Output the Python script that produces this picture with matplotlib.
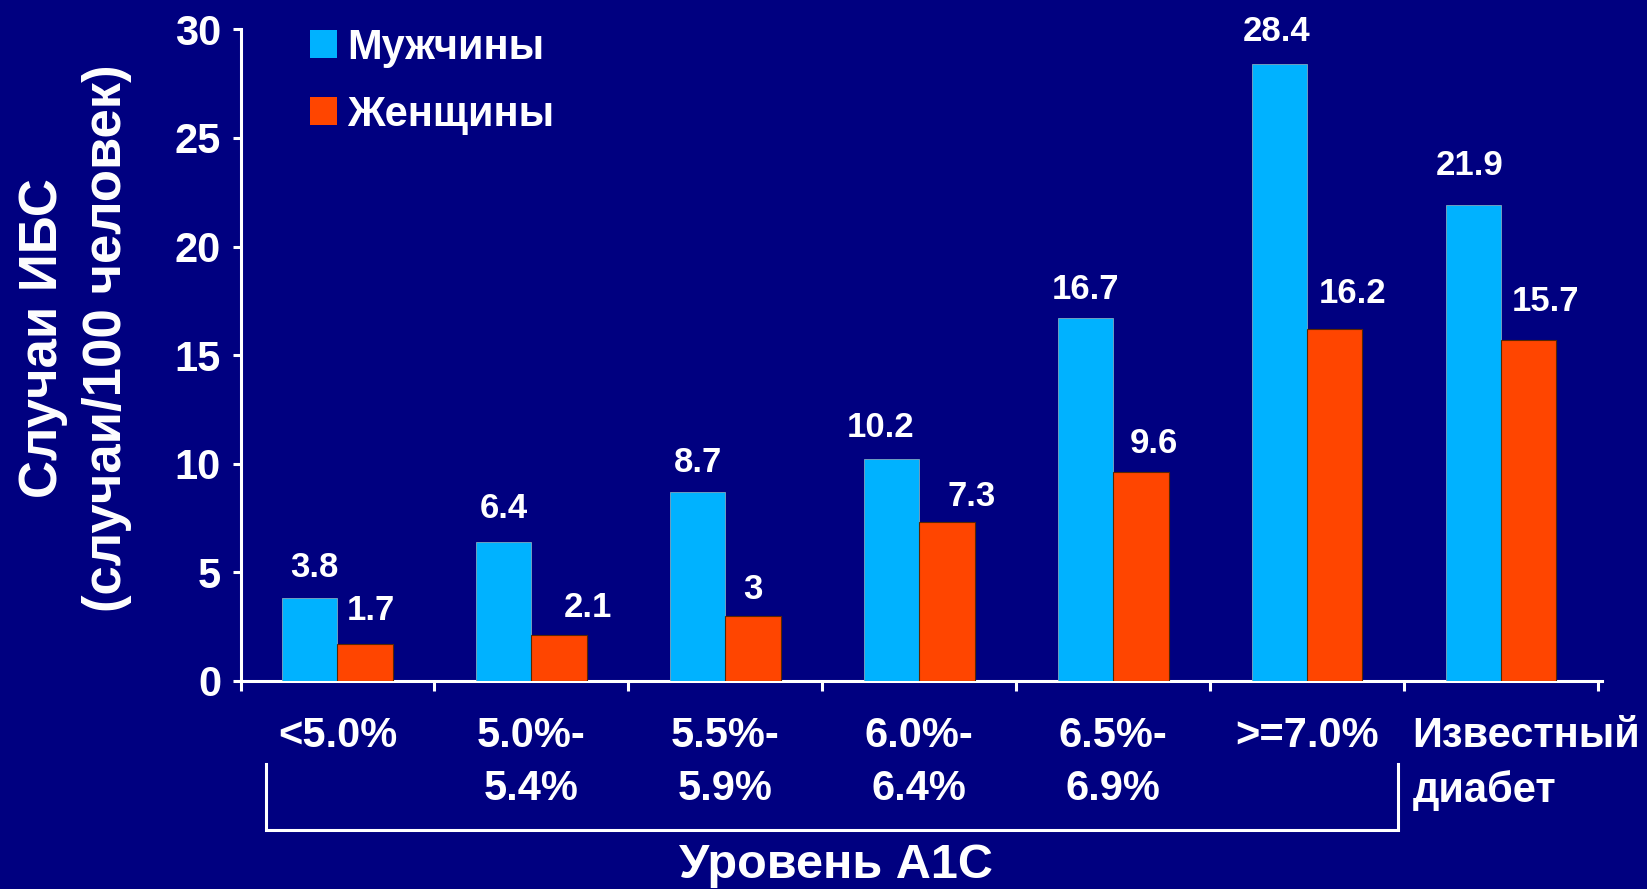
import matplotlib
matplotlib.use("Agg")
import matplotlib.pyplot as plt
import numpy as np
from matplotlib.patches import Patch
from matplotlib.lines import Line2D
from matplotlib.transforms import blended_transform_factory, ScaledTranslation

# ---- data ----
categories = ["<5.0%", "5.0%-\n5.4%", "5.5%-\n5.9%", "6.0%-\n6.4%",
              "6.5%-\n6.9%", ">=7.0%", "Известный\nдиабет"]
men = [3.8, 6.4, 8.7, 10.2, 16.7, 28.4, 21.9]
women = [1.7, 2.1, 3.0, 7.3, 9.6, 16.2, 15.7]
men_labels = ["3.8", "6.4", "8.7", "10.2", "16.7", "28.4", "21.9"]
women_labels = ["1.7", "2.1", "3", "7.3", "9.6", "16.2", "15.7"]
series_names = ["Мужчины", "Женщины"]
y_ticks = [0, 5, 10, 15, 20, 25, 30]
ylabel_text = "Случаи ИБС\n(случаи/100 человек)"
xgroup_text = "Уровень А1С"

# ---- layout: value-label nudges (points), as placed in the original slide ----
men_dx = [3, 0, 0, -8, 0, -2, -3]
men_dy = [15, 17, 14, 16, 14, 17, 22]
women_dx = [4, 21, 0, 18, 9, 13, 12]
women_dy = [17, 13, 12, 12, 14, 19, 21]

# ---- style ----
BG = "#000080"
BLUE = "#00B2FF"
ORANGE = "#FF4500"
W = 1647
H = 889
FONT = ["Liberation Sans", "DejaVu Sans"]
plt.rcParams["font.family"] = FONT
plt.rcParams["font.weight"] = "bold"

fig = plt.figure(figsize=(W / 100, H / 100), dpi=100, facecolor=BG)
ax_left, ax_right, ax_top, ax_bot = 240.5, 1602.0, 29.4, 680.7
ax = fig.add_axes([ax_left / W, 1 - ax_bot / H, (ax_right - ax_left) / W,
                   (ax_bot - ax_top) / H])
ax.set_facecolor(BG)

n = len(categories)
x = np.arange(n)
bw = 0.285
ax.bar(x - bw / 2, men, bw, color=BLUE, edgecolor="#7FA8C0", linewidth=0.6,
       label=series_names[0], zorder=3)
ax.bar(x + bw / 2, women, bw, color=ORANGE, edgecolor="#5A2600", linewidth=0.8,
       label=series_names[1], zorder=3)

for xi, v, s, dx, dy in zip(x, men, men_labels, men_dx, men_dy):
    ax.annotate(s, (xi - bw / 2, v), xytext=(dx, dy), textcoords="offset points",
                ha="center", va="baseline", color="white", fontsize=25,
                fontweight="bold")
for xi, v, s, dx, dy in zip(x, women, women_labels, women_dx, women_dy):
    ax.annotate(s, (xi + bw / 2, v), xytext=(dx, dy), textcoords="offset points",
                ha="center", va="baseline", color="white", fontsize=25,
                fontweight="bold")

ax.set_xlim(-0.5, n - 0.5 + 0.02)
ax.set_ylim(0, 30)
ax.set_yticks(y_ticks)
ax.set_yticklabels([str(t) for t in y_ticks])
ax.set_xticks(np.arange(n + 1) - 0.5)
ax.set_xticklabels([])

for sp in ["top", "right"]:
    ax.spines[sp].set_visible(False)
for sp in ["left", "bottom"]:
    ax.spines[sp].set_color("white")
    ax.spines[sp].set_linewidth(2.2)

ax.tick_params(axis="y", colors="white", labelsize=30, length=6, width=2.2,
               pad=8, direction="out")
ax.tick_params(axis="x", colors="white", length=7, width=2.2, direction="out")
for lab in ax.get_yticklabels():
    lab.set_fontweight("bold")

# category labels under the axis
trans = blended_transform_factory(ax.transData, ax.transAxes)
for i, cat in enumerate(categories):
    shift = 0.25 if i == n - 1 else 0.0
    align = "left" if i == n - 1 else "center"
    t = trans + ScaledTranslation(shift, -0.35, fig.dpi_scale_trans)
    ax.text(x[i], 0, cat, transform=t, ha="center", va="top",
            multialignment=align, color="white", fontsize=30,
            fontweight="bold", linespacing=1.44)

# bracket grouping A1C levels
bl, br, bt, bb = 265.7 / W, 1398.0 / W, 1 - 763.6 / H, 1 - 830.0 / H
fig.add_artist(Line2D([bl, bl, br, br], [bt, bb, bb, bt], transform=fig.transFigure,
                      color="white", linewidth=2.2, solid_joinstyle="miter"))

fig.text(835.6 / W, 1 - 878 / H, xgroup_text, ha="center", va="baseline",
         color="white", fontsize=35, fontweight="bold")

fig.text(75 / W, 1 - 338 / H, ylabel_text, rotation=90, ha="center", va="center",
         multialignment="center", color="white", fontsize=38, fontweight="bold",
         linespacing=1.38)

handles = [Patch(facecolor=BLUE, edgecolor="none"),
           Patch(facecolor=ORANGE, edgecolor="none")]
leg = ax.legend(handles, series_names, loc="upper left",
                bbox_to_anchor=(310 / W, 1 - 28 / H),
                bbox_transform=fig.transFigure, frameon=False, fontsize=30,
                handlelength=0.65, handleheight=0.65, handletextpad=0.25,
                labelspacing=0.64, borderpad=0, borderaxespad=0)
for t in leg.get_texts():
    t.set_color("white")
    t.set_fontweight("bold")

fig.savefig("out.png", dpi=100, facecolor=BG)
